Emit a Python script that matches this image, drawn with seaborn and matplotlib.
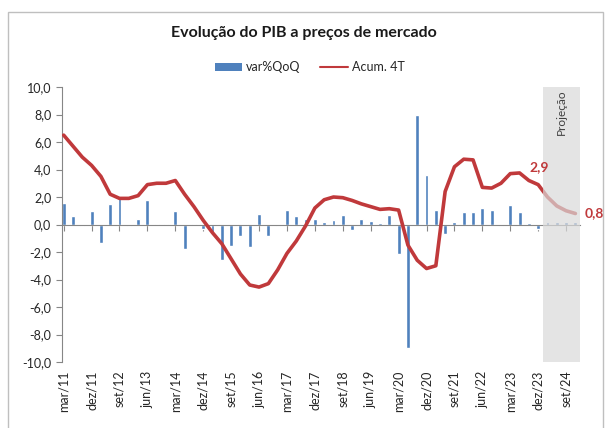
import matplotlib
matplotlib.use("Agg")
import matplotlib.pyplot as plt
import seaborn as sns
import pandas as pd
from matplotlib.patches import Patch, Rectangle
from matplotlib.lines import Line2D
from matplotlib.ticker import FuncFormatter

# trimestres mar/11 ... dez/24
meses = ["mar", "jun", "set", "dez"]
anos = list(range(11, 25))
trimestres = [f"{m}/{a}" for a in anos for m in meses]

# variação trimestral (%)
var_qoq = [1.6, 0.65, -0.1, 0.95, -1.35, 1.5, 1.9, -0.1, 0.4, 1.75, 0.05, 0.05,
           1.0, -1.8, 0.05, -0.3, -0.75, -2.6, -1.55, -0.8, -1.6, 0.75, -0.85, -0.1,
           1.05, 0.6, 0.38, 0.43, 0.2, 0.34, 0.7, -0.42, 0.43, 0.25, 0.12, 0.72,
           -2.15, -9.0, 7.95, 3.6, 1.03, -0.7, 0.2, 0.9, 0.9, 1.2, 1.03, -0.1,
           1.4, 0.9, 0.1, -0.3, 0.15, 0.15, 0.15, 0.2]

# acumulado 4 trimestres (%)
acum_4t = [6.5, 5.7, 4.9, 4.3, 3.5, 2.2, 1.9, 1.9, 2.1, 2.9, 3.0, 3.0,
           3.2, 2.2, 1.3, 0.3, -0.6, -1.4, -2.5, -3.6, -4.4, -4.55, -4.3, -3.3,
           -2.1, -1.2, -0.1, 1.2, 1.8, 2.0, 1.95, 1.75, 1.5, 1.3, 1.1, 1.15,
           1.05, -1.5, -2.6, -3.2, -3.0, 2.4, 4.2, 4.75, 4.7, 2.7, 2.65, 3.0,
           3.7, 3.75, 3.2, 2.9, 2.0, 1.35, 1.0, 0.8]

df = pd.DataFrame({"trimestre": trimestres, "pos": range(len(trimestres)),
                   "var": var_qoq, "acum": acum_4t})

azul = "#4F81BD"
vermelho = "#C0393B"
cinza = "#868686"

sns.set_style("white")
plt.rcParams["font.family"] = ["Lato", "DejaVu Sans"]

fig = plt.figure(figsize=(6.07, 4.28), dpi=100)
ax = fig.add_axes([0.1026, 0.1542, 0.853, 0.6425])

sns.barplot(data=df, x="pos", y="var", native_scale=True, width=0.42,
            color=azul, saturation=1, ax=ax, zorder=2)
sns.lineplot(data=df, x="pos", y="acum", color=vermelho, lw=2.6, ax=ax, zorder=3)

# faixa de projeção
ax.axvspan(51.5, 55.5, color="#D9D9D9", alpha=0.7, lw=0, zorder=4)
ax.text(53.5, 9.8, "Projeção", rotation=90, ha="center", va="top",
        fontsize=8.5, color="#404040", zorder=5)

# rótulos de dados
ax.annotate("2,9", (51, acum_4t[51]), xytext=(1, 13), textcoords="offset points",
            ha="center", va="center", color=vermelho, fontsize=10, fontweight="bold", zorder=6)
ax.annotate("0,8", (55, acum_4t[55]), xytext=(7, 0), textcoords="offset points",
            ha="left", va="center", color=vermelho, fontsize=10, fontweight="bold",
            annotation_clip=False, zorder=6)

ax.set_xlim(-0.15, 55.5)
ax.set_ylim(-10, 10)
ax.set_yticks(range(-10, 11, 2))
ax.yaxis.set_major_formatter(FuncFormatter(lambda v, p: f"{v:.1f}".replace(".", ",")))
ax.tick_params(axis="y", direction="out", length=4, color=cinza, labelsize=9,
               labelcolor="#262626", left=True, pad=4)
ax.set_xlabel("")
ax.set_ylabel("")

for s in ["top", "right"]:
    ax.spines[s].set_visible(False)
ax.spines["left"].set_color(cinza)
ax.spines["bottom"].set_position(("data", 0))
ax.spines["bottom"].set_color(cinza)

pos_ticks = list(range(0, len(trimestres), 3))
ax.set_xticks(pos_ticks)
ax.tick_params(axis="x", direction="out", length=4, color=cinza, bottom=True,
               labelbottom=False)

sec = ax.secondary_xaxis("bottom")
sec.set_xticks(pos_ticks, labels=[trimestres[i] for i in pos_ticks], rotation=90)
sec.tick_params(length=0, labelsize=9, labelcolor="#262626", pad=6)
sec.spines["bottom"].set_visible(False)

fig.text(0.5, 0.922, "Evolução do PIB a preços de mercado", ha="center", va="center",
         fontsize=11.5, fontweight="bold", color="#1a1a1a")

handles = [Patch(facecolor=azul, edgecolor="none"),
           Line2D([0], [0], color=vermelho, lw=1.5)]
fig.legend(handles, ["var%QoQ", "Acum. 4T"], loc="center", bbox_to_anchor=(0.51, 0.843),
           ncol=2, frameon=False, fontsize=9, handlelength=2.2, handleheight=0.6,
           columnspacing=1.6, handletextpad=0.3)

fig.patches.append(Rectangle((8 / 607, -0.05), 595 / 607, 1 - 12 / 428 + 0.05,
                             transform=fig.transFigure, fill=False, ec="#BFBFBF", lw=1))

fig.savefig("out.png", dpi=100)
